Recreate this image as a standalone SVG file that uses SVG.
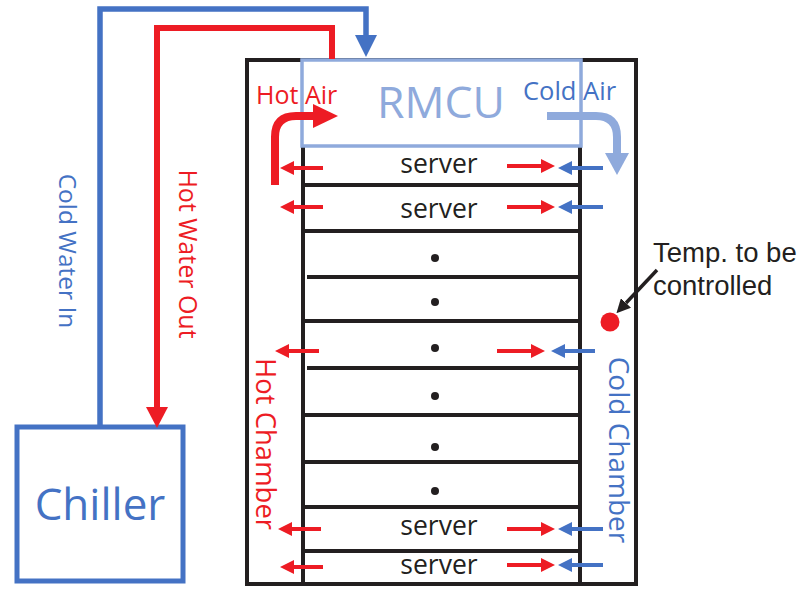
<svg xmlns="http://www.w3.org/2000/svg" width="809" height="589" viewBox="0 0 809 589">
  <style>
    text { font-family: "Open Sans", "Noto Sans", "Liberation Sans", sans-serif; }
    .red { fill: #ED1C24; }
    .blue { fill: #4472C4; }
    .dark { fill: #231F20; }
    .note { font-family: "Liberation Sans", Arial, sans-serif; font-size: 27.5px; }
    .rack { fill: none; stroke: #231F20; stroke-width: 4; }
    .shelf { stroke: #231F20; stroke-width: 4; }
    .hflow { fill: none; stroke: #ED1C24; stroke-width: 4; }
    .cflow { fill: none; stroke: #4472C4; stroke-width: 4; }
    .srv { font-size: 26.5px; text-anchor: middle; fill: #231F20; }
    .dot { fill: #231F20; }
  </style>
  <defs>
    <marker id="headRed" markerUnits="userSpaceOnUse" markerWidth="14" markerHeight="14" refX="0" refY="7" orient="auto">
      <path d="M0,0 L14,7 L0,14 z" fill="#ED1C24"/>
    </marker>
    <marker id="headBlue" markerUnits="userSpaceOnUse" markerWidth="14" markerHeight="14" refX="0" refY="7" orient="auto">
      <path d="M0,0 L14,7 L0,14 z" fill="#4472C4"/>
    </marker>
    <marker id="headDark" markerUnits="userSpaceOnUse" markerWidth="14" markerHeight="14" refX="0" refY="7" orient="auto">
      <path d="M0,0 L14,7 L0,14 z" fill="#231F20"/>
    </marker>
  </defs>

  <rect width="809" height="589" fill="#ffffff"/>

  <!-- rack enclosure with hot and cold chambers -->
  <g id="rack">
    <rect class="rack" x="247" y="60" width="389" height="524"/>
    <line class="shelf" x1="303" y1="146" x2="303" y2="584"/>
    <line class="shelf" x1="580" y1="146" x2="580" y2="584"/>
    <line class="shelf" x1="303" y1="185" x2="580" y2="185"/>
    <line class="shelf" x1="303" y1="231" x2="580" y2="231"/>
    <line class="shelf" x1="307" y1="277" x2="580" y2="277"/>
    <line class="shelf" x1="303" y1="321" x2="580" y2="321"/>
    <line class="shelf" x1="307" y1="368" x2="580" y2="368"/>
    <line class="shelf" x1="303" y1="415" x2="580" y2="415"/>
    <line class="shelf" x1="303" y1="462" x2="580" y2="462"/>
    <line class="shelf" x1="303" y1="507" x2="580" y2="507"/>
    <line class="shelf" x1="303" y1="551" x2="580" y2="551"/>
    <circle class="dot" cx="435" cy="258" r="4"/>
    <circle class="dot" cx="435" cy="302" r="4"/>
    <circle class="dot" cx="435" cy="348" r="4"/>
    <circle class="dot" cx="435" cy="396" r="4"/>
    <circle class="dot" cx="435" cy="447" r="4"/>
    <circle class="dot" cx="435" cy="491" r="4"/>
    <text class="red" font-size="27.5" text-anchor="middle" transform="translate(256,444) rotate(90)">Hot Chamber</text>
    <text class="blue" font-size="28" text-anchor="middle" transform="translate(609,450) rotate(90)">Cold Chamber</text>
  </g>

  <!-- servers -->
  <g id="server1"><text class="srv" x="439" y="173">server</text></g>
  <g id="server2"><text class="srv" x="439" y="218">server</text></g>
  <g id="server3"><text class="srv" x="439" y="535">server</text></g>
  <g id="server4"><text class="srv" x="439" y="574">server</text></g>

  <!-- rack-mounted cooling unit -->
  <g id="rmcu">
    <rect x="302" y="60" width="279" height="86" fill="#ffffff" stroke="#8FAADC" stroke-width="3.5"/>
    <text x="441" y="118" font-size="44.5" text-anchor="middle" fill="#8FAADC">RMCU</text>
    <text class="red" x="256" y="104" font-size="25">Hot Air</text>
    <text class="blue" x="523" y="100" font-size="25.5">Cold Air</text>
  </g>

  <!-- chiller -->
  <g id="chiller">
    <rect x="17" y="427" width="166" height="154" fill="#ffffff" stroke="#4472C4" stroke-width="5"/>
    <text class="blue" x="100" y="520" font-size="44" text-anchor="middle">Chiller</text>
  </g>

  <!-- temperature sensor -->
  <g id="sensor">
    <circle cx="610" cy="322" r="9.5" fill="#ED1C24"/>
    <text class="dark note" x="653" y="262">Temp. to be</text>
    <text class="dark note" x="653" y="295">controlled</text>
  </g>

  <g id="connectors">
    <!-- water loop -->
    <path d="M100,427 V9 H366 V36" fill="none" stroke="#4472C4" stroke-width="5.5"/>
    <polygon points="355,35 377,35 366,57" fill="#4472C4"/>
    <path d="M332,59 V28 H157 V408" fill="none" stroke="#ED1C24" stroke-width="6"/>
    <polygon points="146,407 168,407 157,428" fill="#ED1C24"/>
    <text class="blue" font-size="24.5" text-anchor="middle" transform="translate(59,251) rotate(90)">Cold Water In</text>
    <text class="red" font-size="25" text-anchor="middle" transform="translate(179,254) rotate(90)">Hot Water Out</text>

    <!-- air through the cooling unit -->
    <path d="M275,185 V137 Q275,116 296,116 H316" fill="none" stroke="#ED1C24" stroke-width="8"/>
    <polygon points="313,104 338,116 313,128" fill="#ED1C24"/>
    <path d="M547,116 H596 Q617,116 617,137 V154" fill="none" stroke="#8FAADC" stroke-width="8"/>
    <polygon points="605,153 629,153 617,175" fill="#8FAADC"/>

    <!-- air through the servers -->
    <path class="hflow" d="M323,168 H294" marker-end="url(#headRed)"/>
    <path class="hflow" d="M323,207 H294" marker-end="url(#headRed)"/>
    <path class="hflow" d="M319,351 H289" marker-end="url(#headRed)"/>
    <path class="hflow" d="M321,529 H292" marker-end="url(#headRed)"/>
    <path class="hflow" d="M323,567 H294" marker-end="url(#headRed)"/>

    <path class="hflow" d="M507,166 H541" marker-end="url(#headRed)"/>
    <path class="hflow" d="M507,207 H541" marker-end="url(#headRed)"/>
    <path class="hflow" d="M497,351 H531" marker-end="url(#headRed)"/>
    <path class="hflow" d="M507,529 H541" marker-end="url(#headRed)"/>
    <path class="hflow" d="M507,565 H541" marker-end="url(#headRed)"/>

    <path class="cflow" d="M603,168 H572" marker-end="url(#headBlue)"/>
    <path class="cflow" d="M603,207 H572" marker-end="url(#headBlue)"/>
    <path class="cflow" d="M595,351 H565" marker-end="url(#headBlue)"/>
    <path class="cflow" d="M603,529 H572" marker-end="url(#headBlue)"/>
    <path class="cflow" d="M603,565 H572" marker-end="url(#headBlue)"/>

    <!-- sensor pointer -->
    <path d="M657,270 L626,303" fill="none" stroke="#231F20" stroke-width="3.5" marker-end="url(#headDark)"/>
  </g>
</svg>
